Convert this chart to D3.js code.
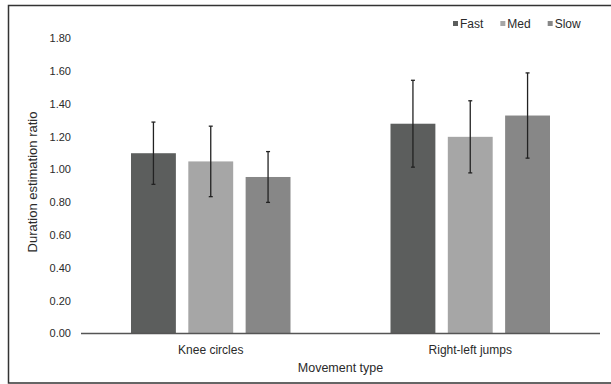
<!DOCTYPE html>
<html>
<head>
<meta charset="utf-8">
<script src="https://cdn.jsdelivr.net/npm/d3@7"></script>
<style>
  body { margin: 0; background: #fff; }
  text { font-family: "Liberation Sans", Arial, sans-serif; fill: #2a2a2a; }
</style>
</head>
<body>
<svg width="611" height="384"></svg>
<script>
// data
var categories = ["Knee circles", "Right-left jumps"];
var series = ["Fast", "Med", "Slow"];
var fastMeans = [1.10, 1.28];
var medMeans = [1.05, 1.20];
var slowMeans = [0.955, 1.33];
var fastErr = [0.19, 0.265];
var medErr = [0.215, 0.22];
var slowErr = [0.155, 0.26];
var yTicks = [0, 0.2, 0.4, 0.6, 0.8, 1.0, 1.2, 1.4, 1.6, 1.8];

var colors = { Fast: "#5c5e5d", Med: "#a6a6a6", Slow: "#878787" };
var means = { Fast: fastMeans, Med: medMeans, Slow: slowMeans };
var errs = { Fast: fastErr, Med: medErr, Slow: slowErr };

var svg = d3.select("svg");

// outer frame
svg.append("rect")
  .attr("x", 8.5).attr("y", 5.5)
  .attr("width", 610).attr("height", 377.5)
  .attr("fill", "none")
  .attr("stroke", "#333")
  .attr("stroke-width", 1.5);

var x0 = d3.scaleBand().domain(categories).range([81, 600]);
var x1 = d3.scaleBand().domain(series)
  .range([50, x0.bandwidth() - 50])
  .paddingInner(0.217);
var y = d3.scaleLinear().domain([0, 1.8]).range([333.5, 38.5]);

// y tick labels
svg.selectAll(".ytick").data(yTicks)
  .join("text")
  .attr("class", "ytick")
  .attr("x", 71)
  .attr("y", function(d) { return y(d); })
  .attr("dy", "0.35em")
  .attr("text-anchor", "end")
  .attr("font-size", 11)
  .text(d3.format(".2f"));

// bars
var rows = [];
categories.forEach(function(c, i) {
  series.forEach(function(s) {
    rows.push({ cat: c, s: s, v: means[s][i], e: errs[s][i] });
  });
});

svg.selectAll(".bar").data(rows)
  .join("rect")
  .attr("class", "bar")
  .attr("x", function(d) { return x0(d.cat) + x1(d.s); })
  .attr("y", function(d) { return y(d.v); })
  .attr("width", x1.bandwidth())
  .attr("height", function(d) { return y(0) - y(d.v); })
  .attr("fill", function(d) { return colors[d.s]; });

// error bars
var eb = svg.selectAll(".err").data(rows).join("g").attr("class", "err")
  .attr("stroke", "#222").attr("stroke-width", 1.3);
function cx(d) { return x0(d.cat) + x1(d.s) + x1.bandwidth() / 2; }
eb.append("line")
  .attr("x1", cx).attr("x2", cx)
  .attr("y1", function(d) { return y(d.v + d.e); })
  .attr("y2", function(d) { return y(d.v - d.e); });
eb.append("line")
  .attr("x1", function(d) { return cx(d) - 2; })
  .attr("x2", function(d) { return cx(d) + 2; })
  .attr("y1", function(d) { return y(d.v + d.e); })
  .attr("y2", function(d) { return y(d.v + d.e); });
eb.append("line")
  .attr("x1", function(d) { return cx(d) - 2; })
  .attr("x2", function(d) { return cx(d) + 2; })
  .attr("y1", function(d) { return y(d.v - d.e); })
  .attr("y2", function(d) { return y(d.v - d.e); });

// x axis line
svg.append("line")
  .attr("x1", 81).attr("x2", 600)
  .attr("y1", y(0)).attr("y2", y(0))
  .attr("stroke", "#555")
  .attr("stroke-width", 1.5);

// category labels
svg.selectAll(".xlab").data(categories)
  .join("text")
  .attr("class", "xlab")
  .attr("x", function(d) { return x0(d) + x0.bandwidth() / 2; })
  .attr("y", 354)
  .attr("text-anchor", "middle")
  .attr("font-size", 12)
  .text(function(d) { return d; });

// axis titles
svg.append("text")
  .attr("x", 340.5).attr("y", 372)
  .attr("text-anchor", "middle")
  .attr("font-size", 12.5)
  .text("Movement type");

svg.append("text")
  .attr("transform", "translate(37,182) rotate(-90)")
  .attr("text-anchor", "middle")
  .attr("font-size", 13)
  .text("Duration estimation ratio");

// legend
var lx = 453;
series.forEach(function(s) {
  svg.append("rect")
    .attr("x", lx).attr("y", 21)
    .attr("width", 5).attr("height", 5)
    .attr("fill", colors[s]);
  var t = svg.append("text")
    .attr("x", lx + 7).attr("y", 27.5)
    .attr("font-size", 12)
    .text(s);
  lx += 7 + t.node().getComputedTextLength() + 17;
});
</script>
</body>
</html>
